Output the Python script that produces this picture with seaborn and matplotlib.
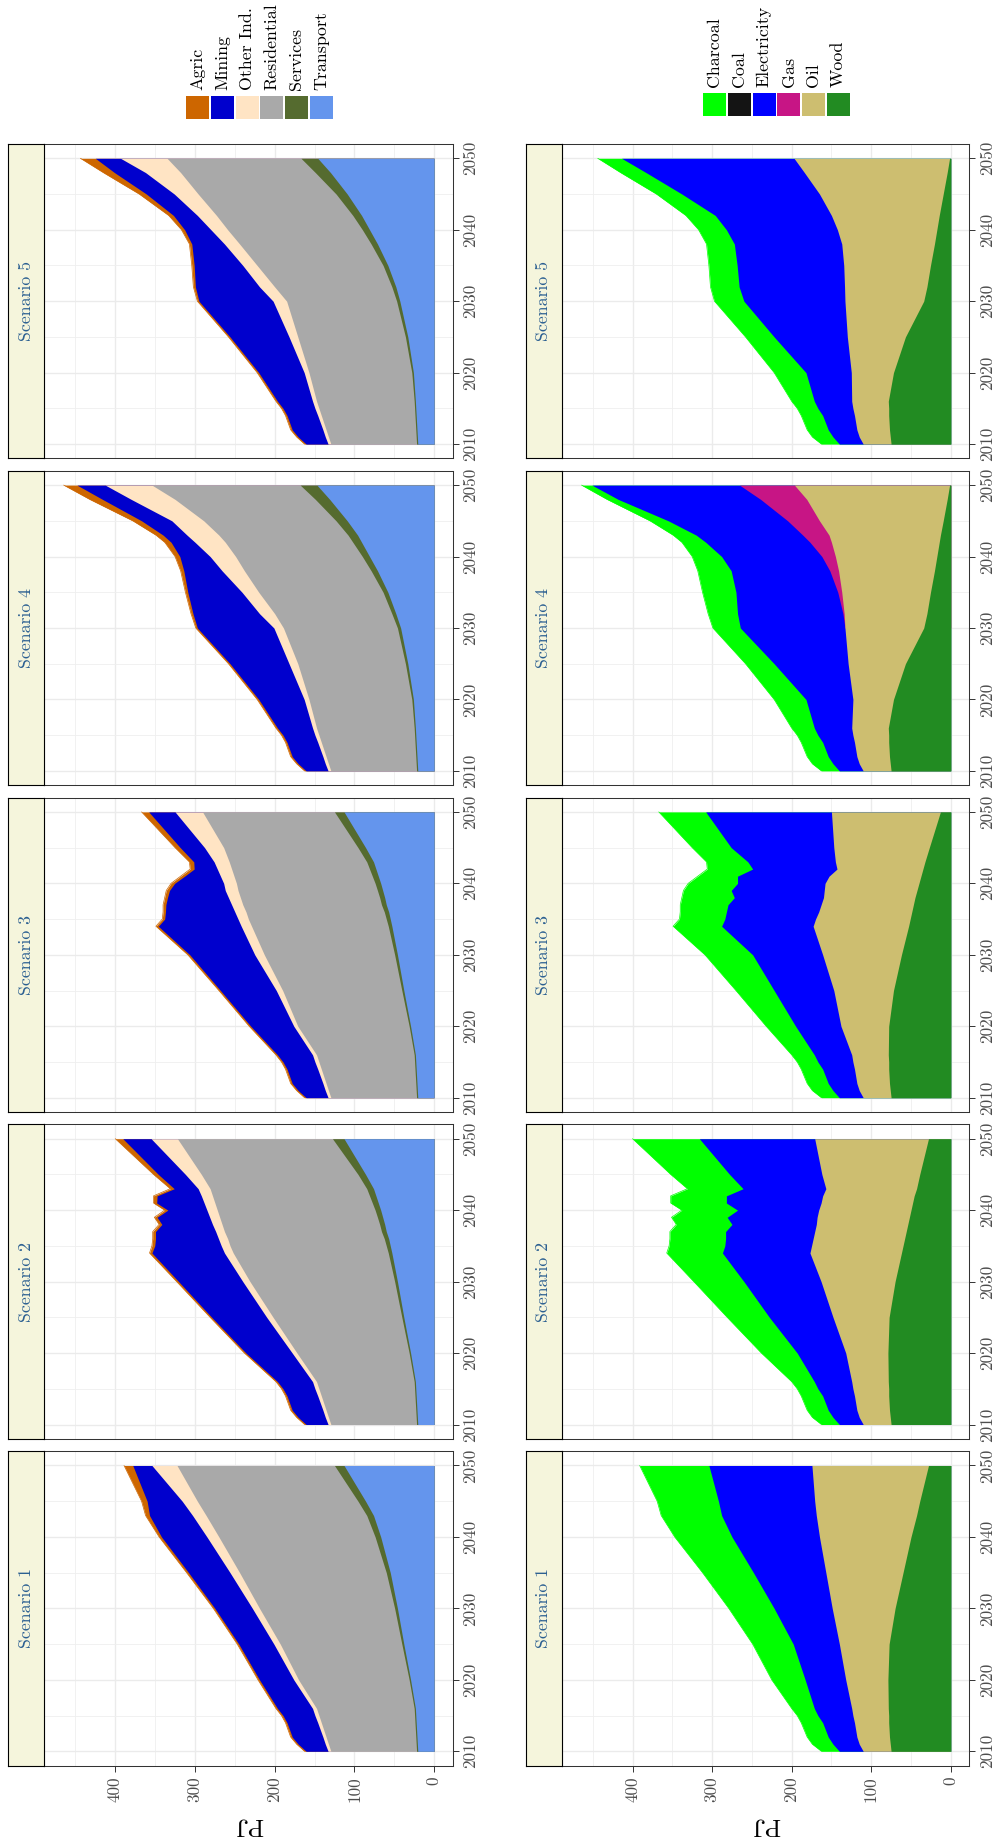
import numpy as np
import pandas as pd
import matplotlib
matplotlib.use("Agg")
import matplotlib.pyplot as plt
from matplotlib.patches import Rectangle
import seaborn as sns

# ---------------------------------------------------------------- data
SCENARIOS = [1, 2, 3, 4, 5]
SECTORS = ["Agric", "Mining", "Other Ind.", "Residential", "Services", "Transport"]
FUELS = ["Charcoal", "Coal", "Electricity", "Gas", "Oil", "Wood"]
SECTOR_COLORS = ["#CD6600", "#0000CD", "#FFE4C4", "#A9A9A9", "#556B2F", "#6495ED"]
FUEL_COLORS = ["#00FF00", "#141414", "#0000FF", "#C71585", "#CDBE70", "#228B22"]
YEAR_TICKS = [2010, 2020, 2030, 2040, 2050]
PJ_TICKS = [0, 100, 200, 300, 400]

YEARS = {
    1: [2010, 2011, 2012, 2014, 2015, 2016, 2020, 2025, 2030, 2035, 2040, 2043, 2045, 2050],
    2: [2010, 2011, 2012, 2014, 2015, 2016, 2020, 2025, 2030, 2034, 2035, 2036, 2037, 2038,
        2039, 2040, 2041, 2042, 2043, 2045, 2050],
    3: [2010, 2011, 2012, 2014, 2015, 2016, 2020, 2025, 2030, 2034, 2035, 2036, 2037, 2038,
        2039, 2040, 2041, 2042, 2043, 2045, 2050],
    4: [2010, 2011, 2012, 2014, 2015, 2016, 2020, 2025, 2030, 2032, 2035, 2038, 2040, 2042,
        2043, 2045, 2048, 2050],
    5: [2010, 2011, 2012, 2014, 2015, 2016, 2020, 2025, 2030, 2032, 2035, 2038, 2040, 2042,
        2045, 2048, 2050],
}

# ---- sectors (PJ)
TRANSPORT = {
    1: [20.5, 21, 21.5, 22.5, 23, 23.5, 29.5, 38, 46, 55, 67, 76, 86, 113],
    2: [20.5, 21, 21.5, 22.5, 23, 23.5, 29.5, 38, 46, 53, 55, 57, 60, 62, 64.5, 67, 70, 73, 76, 86, 113],
    3: [20.5, 21, 21.5, 22.5, 23, 23.5, 29.5, 38, 46, 53, 55, 57, 60, 62, 64.5, 67, 70, 73, 76, 86, 113],
    4: [20.5, 21, 21.5, 22.5, 23, 23.5, 26, 33, 42, 48, 58, 71, 81, 91, 96, 109, 131, 147],
    5: [20.5, 21, 21.5, 22.5, 23, 23.5, 26, 33, 43, 48, 58, 71, 81, 91, 109, 130, 146],
}
SERVICES = {
    1: [1.5, 1.5, 1.5, 1.5, 1.5, 1.5, 1.8, 2.5, 3.5, 5, 7, 8.5, 9.5, 12],
    2: [1.5, 1.5, 1.5, 1.5, 1.5, 1.5, 1.8, 2.5, 3.5, 4.5, 5, 5.5, 6, 6.3, 6.6, 7, 7.5, 8, 8.5, 9.5, 14.5],
    3: [1.5, 1.5, 1.5, 1.5, 1.5, 1.5, 1.8, 2.5, 3.5, 4.5, 5, 5.5, 6, 6.3, 6.6, 7, 7.5, 8, 8.5, 9.5, 12],
    4: [1.5, 1.5, 1.5, 1.5, 1.5, 1.5, 2, 3, 4, 5, 6, 8, 9, 11, 12, 14, 18, 21],
    5: [1.5, 1.5, 1.5, 1.5, 1.5, 1.5, 2, 3, 4, 5, 6, 8, 9, 11, 14, 19, 21],
}
RESIDENTIAL = {
    1: [107.5, 110, 112.5, 117.5, 120, 122.5, 138.7, 152.5, 169.5, 184, 196, 201.5, 201.5, 197.5],
    2: [107.5, 110, 112.5, 117.5, 120, 122.5, 140.7, 161.5, 181.5, 194.5, 196, 196.5, 197, 197.7,
        197.9, 198, 197.5, 197, 196.5, 196.5, 194.5],
    3: [107.5, 110, 112.5, 117.5, 120, 122.5, 139.7, 149.5, 163.5, 171.5, 173, 173.5, 174, 174.7,
        174.9, 174, 173.5, 173, 172.5, 168.5, 165.5],
    4: [107.5, 110, 112.5, 117.5, 120, 122.5, 129, 135, 143, 147, 156, 159, 159, 160, 162, 166, 176, 186],
    5: [107.5, 110, 112.5, 117.5, 120, 122.5, 129, 135, 138, 147, 158, 165, 169, 171, 173, 169, 168],
}
OTHER_IND = {
    1: [3.5, 4, 4, 4.5, 5, 5, 6, 8, 9, 12, 15, 17, 19, 31.5],
    2: [3.5, 4, 4, 4.5, 5, 5, 6, 8, 9, 11, 11, 11.5, 11, 12, 12.5, 13, 13.5, 14, 15, 20, 33],
    3: [3.5, 4, 4, 4.5, 5, 5, 5, 8, 12, 13, 13, 14, 14, 15, 16, 16, 17, 18, 19, 24, 34.5],
    4: [3.5, 4, 4, 4.5, 5, 5, 6, 11, 12, 19, 21, 28, 32, 38, 40, 40, 55, 58.6],
    5: [3.5, 4, 4, 4.5, 5, 5, 6, 11, 17, 19, 18, 19, 21, 24, 30, 44, 58.4],
}
MINING = {
    1: [27.5, 34, 38.5, 38.5, 40, 44, 43, 44, 47, 52, 57, 54, 44, 24],
    2: [27.5, 34, 38.5, 38.5, 40, 44, 58, 69, 80.5, 91, 83.5, 79, 75.5, 63.5, 66, 49, 59.5, 55.5,
        30, 34, 35.5],
    3: [27.5, 34, 38.5, 38.5, 40, 44, 54, 70, 81.5, 104, 92, 87, 82.5, 76.5, 70, 61.5, 45, 29,
        25.5, 30.5, 33],
    4: [27.5, 34, 38.5, 38.5, 40, 44, 57, 74, 96, 83.5, 68, 48, 38, 30, 30, 38, 36, 35.4],
    5: [27.5, 34, 38.5, 38.5, 40, 44, 57, 74, 93, 80.5, 61, 41, 33, 30, 35, 39, 31.6],
}
AGRIC = {
    1: [2, 2, 2, 2, 2, 2, 2, 2, 2, 2.5, 3, 5, 7, 11],
    2: [2, 2, 2, 2, 2, 2, 2, 2, 2.5, 3, 3.5, 3.5, 3.5, 3.5, 3.5, 4, 4, 4.5, 5, 6, 9.5],
    3: [2, 2, 2, 2, 2, 2, 2, 2, 2.5, 3, 3, 3, 3.5, 3.5, 4, 4.5, 5, 5, 5.5, 6.5, 9],
    4: [2, 2, 2, 2, 2, 2, 2, 2, 2, 2.5, 3, 4, 6, 8, 9, 11, 16, 16.7],
    5: [2, 2, 2, 2, 2, 2, 2, 2, 2, 2.5, 3, 3, 4, 6, 9, 14, 18.7],
}

# ---- fuels (PJ)
WOOD = {
    1: [75, 76, 77, 78, 78, 78.5, 79, 77.5, 70, 60, 50, 43, 39, 28],
    2: [75, 76, 77, 78, 78, 78.5, 79, 77.5, 70, 62, 60, 58, 56, 54, 52, 50, 48, 46, 43, 39, 28],
    3: [75, 76, 77, 78, 78, 78.5, 78, 72, 62, 53, 51, 49, 47, 45, 42.5, 40, 37.5, 35, 32.5, 27, 13],
    4: [75, 76, 77, 78, 78, 78.5, 72, 57, 34, 30, 25.5, 20.5, 17.5, 14.5, 13, 9.5, 4.5, 1.5],
    5: [75, 76, 77, 78, 78, 78.5, 72, 57, 34, 30, 25.5, 20.5, 17.5, 14.5, 9.5, 4.5, 1.5],
}
OIL = {
    1: [35, 39, 41, 43, 45, 46, 53, 62.5, 79, 97, 115, 126, 132, 146.5],
    2: [35, 39, 41, 43, 45, 46, 53, 70.5, 93, 115, 115, 115, 115, 115, 116, 116, 115, 115, 114, 123, 143],
    3: [35, 39, 41, 43, 45, 46, 60, 75, 99, 120, 119, 117, 116, 115, 116.5, 118, 115.5, 108, 112.5,
        120, 137],
    4: [35, 39, 41, 43, 45, 46, 51, 72, 99, 104, 111.5, 120.5, 127.5, 135.5, 140, 155.5, 176.5, 195],
    5: [35, 39, 41, 43, 45, 46, 53, 73, 99, 103.5, 109, 116.5, 125, 135.5, 155.5, 179.5, 195.5],
}
GAS = {
    1: [0, 0, 0, 0, 0, 0, 0, 0, 0, 0, 0, 0, 0, 0],
    2: [0, 0, 0, 0, 0, 0, 0, 0, 0, 0, 0, 0, 0, 0, 0, 0, 0, 0, 0, 0, 0],
    3: [0, 0, 0, 0, 0, 0, 0, 0, 0, 0, 0, 0, 0, 0, 0, 0, 0, 0, 0, 0, 0],
    4: [0, 0, 0, 0, 0, 0, 0, 0, 0, 1.5, 5, 11, 17, 27, 33, 40, 58, 69],
    5: [0, 0, 0, 0, 0, 0, 0, 0, 0, 0, 0, 0, 0, 0, 0, 0, 0],
}
ELECTRICITY = {
    1: [30, 33, 36, 40, 44, 47, 51, 58, 73, 91, 110, 119, 121, 129.5],
    2: [30, 33, 36, 40, 44, 47, 61, 80, 97, 110, 109, 110, 112, 106, 113, 102, 119, 121, 104, 116, 145],
    3: [30, 33, 36, 40, 44, 47, 57, 75, 88, 115, 114, 116, 117, 112, 117, 110, 115, 106, 110, 129, 158],
    4: [30, 33, 36, 40, 44, 47, 59, 93, 131.5, 132.5, 128, 124, 126, 131, 134, 150, 179, 185.6],
    5: [30, 33, 36, 40, 44, 47, 57, 92, 127, 132.5, 134, 135, 139.5, 146, 173, 199, 216.7],
}
COAL = {
    1: [0, 0, 0, 0, 0, 0, 0, 0, 0, 0, 0, 0, 0, 0],
    2: [0, 0, 0, 0, 0, 0, 0, 0, 0, 0, 0, 0, 0, 0, 0, 0, 0, 0, 0, 0, 0],
    3: [0, 0, 0, 0, 0, 0, 0, 0, 0, 0, 0, 0, 0, 0, 0, 0, 0, 0, 0, 0, 0],
    4: [0, 0, 0, 0, 0, 0, 0, 0, 0, 0, 0, 0, 0, 0, 0, 0, 0, 0],
    5: [0, 0, 0, 0, 0, 0, 0, 0, 0, 0, 0, 0, 0, 0, 0, 0, 0],
}
CHARCOAL = {
    1: [22.5, 26, 26.5, 27, 26, 28.5, 42, 51, 57, 64, 72, 76, 77, 87],
    2: [22.5, 26, 26.5, 27, 26, 28.5, 45, 53, 63, 70, 70, 70, 70, 70, 70, 70, 70, 70, 70, 74, 84],
    3: [22.5, 26, 26.5, 27, 26, 28.5, 37, 48, 60, 61, 57, 58, 60, 66, 60, 62, 50, 57, 52, 49, 59],
    4: [22.5, 26, 26.5, 27, 26, 28.5, 40, 36, 34.5, 37, 42, 42, 37, 30, 29, 23, 14, 13],
    5: [22.5, 26, 26.5, 27, 26, 28.5, 40, 36, 37, 36, 35.5, 35, 35, 37, 32, 32, 30],
}

SECTOR_DATA = {"Agric": AGRIC, "Mining": MINING, "Other Ind.": OTHER_IND,
               "Residential": RESIDENTIAL, "Services": SERVICES, "Transport": TRANSPORT}
FUEL_DATA = {"Charcoal": CHARCOAL, "Coal": COAL, "Electricity": ELECTRICITY,
             "Gas": GAS, "Oil": OIL, "Wood": WOOD}

rows = []
for group, table in (("sector", SECTOR_DATA), ("fuel", FUEL_DATA)):
    for cat, series in table.items():
        for s in SCENARIOS:
            assert len(series[s]) == len(YEARS[s]), (cat, s)
            for yr, v in zip(YEARS[s], series[s]):
                rows.append((group, s, cat, yr, v))
df = pd.DataFrame(rows, columns=["group", "scenario", "category", "year", "pj"])

# ---------------------------------------------------------------- style
sns.set_theme(style="white")
plt.rcParams["font.family"] = ["cmr10", "DejaVu Serif"]
plt.rcParams["axes.formatter.use_mathtext"] = True
plt.rcParams["axes.unicode_minus"] = False

W, H = 997, 1843
fig = plt.figure(figsize=(W / 100, H / 100), dpi=100)
fig.patch.set_facecolor("white")


def fx(px):
    return px / W


def fy(py):
    return 1 - py / H


ROW_TOP0, ROW_PITCH, PANEL_H = 144.0, 326.8, 314.4
COLUMNS = {"sector": (8.0, 44.3, 452.7), "fuel": (525.7, 561.7, 969.3)}
XLIM = (489.0, -23.3)
YLIM = (2008.0, 2052.0)
TICK_COLOR = "#333333"
LABEL_COLOR = "#4D4D4D"
STRIP_TEXT = "#2B5F91"


def draw_panel(ax, sub, cats, colors):
    wide = sub.pivot(index="year", columns="category", values="pj")[cats].sort_index()
    yrs = wide.index.to_numpy(dtype=float)
    cum = wide[cats[::-1]].cumsum(axis=1)
    # painter's order: the top layer first, each layer from 0 to its stacked top
    for cat, col in zip(cats, colors):
        vals = wide[cat].to_numpy(dtype=float)
        nz = np.nonzero(vals > 0)[0]
        if len(nz) == 0:
            continue
        i0 = max(nz[0] - 1, 0)
        i1 = min(nz[-1] + 1, len(vals) - 1)
        top = cum[cat].to_numpy(dtype=float)
        ax.fill_betweenx(yrs[i0:i1 + 1], 0, top[i0:i1 + 1], facecolor=col,
                         linewidth=0, zorder=2)
    total = cum[cats[0]].to_numpy(dtype=float)
    sns.lineplot(x=total, y=yrs, orient="y", estimator=None, color=colors[0],
                 linewidth=0.5, ax=ax, zorder=3)


groups = [("sector", SECTORS, SECTOR_COLORS), ("fuel", FUELS, FUEL_COLORS)]
for group, cats, colors in groups:
    sx0, px0, px1 = COLUMNS[group]
    for row, scen in enumerate([5, 4, 3, 2, 1]):
        top_px = ROW_TOP0 + row * ROW_PITCH
        ax = fig.add_axes([fx(px0), fy(top_px + PANEL_H), fx(px1 - px0), PANEL_H / H])
        sub = df[(df.group == group) & (df.scenario == scen)]
        draw_panel(ax, sub, cats, colors)
        ax.set_facecolor("white")
        ax.set_xlim(*XLIM)
        ax.set_ylim(*YLIM)
        ax.set_xlabel("")
        ax.set_ylabel("")
        ax.set_xticks(PJ_TICKS)
        ax.set_xticks([50, 150, 250, 350, 450], minor=True)
        ax.set_yticks(YEAR_TICKS)
        ax.set_yticks([2015, 2025, 2035, 2045], minor=True)
        ax.grid(which="major", color="#EBEBEB", linewidth=1.0, zorder=0)
        ax.grid(which="minor", color="#EFEFEF", linewidth=0.6, zorder=0)
        ax.set_axisbelow(True)
        for sp in ax.spines.values():
            sp.set_color(TICK_COLOR)
            sp.set_linewidth(0.75)
            sp.set_zorder(5)
        ax.tick_params(which="minor", length=0)
        ax.yaxis.tick_right()
        ax.tick_params(axis="y", which="major", right=True, left=False, length=4,
                       width=0.7, color=TICK_COLOR, pad=3.5, labelsize=12.3,
                       labelcolor=LABEL_COLOR, labelright=True, labelleft=False)
        ax.set_yticklabels([str(t) for t in YEAR_TICKS], rotation=90, va="center", ha="left")
        if scen == 1:
            ax.tick_params(axis="x", which="major", bottom=True, length=4, width=0.7,
                           color=TICK_COLOR, pad=3.7, labelsize=12.3,
                           labelcolor=LABEL_COLOR, labelbottom=True)
            ax.set_xticklabels([str(t) for t in PJ_TICKS], rotation=90, ha="center", va="top")
        else:
            ax.tick_params(axis="x", which="major", bottom=False, length=0, labelbottom=False)

        # facet strip
        sax = fig.add_axes([fx(sx0), fy(top_px + PANEL_H), fx(px0 - sx0), PANEL_H / H])
        sax.set_facecolor("#F5F5DC")
        sax.set_xticks([])
        sax.set_yticks([])
        for sp in sax.spines.values():
            sp.set_color("black")
            sp.set_linewidth(0.8)
        sax.text(0.5, 0.5, f"Scenario {scen}", rotation=90, ha="center", va="center",
                 color=STRIP_TEXT, fontsize=12.8, transform=sax.transAxes)

    # y-axis title (rotated with the figure)
    fig.text(fx((px0 + px1) / 2), fy(1825), "PJ", rotation=180, ha="center", va="center",
             fontsize=17.5, color="black")

# legends (rotated layout)
LEGENDS = [
    (SECTORS, SECTOR_COLORS, 186.0, 24.8, 96.0, 90.0),
    (FUELS, FUEL_COLORS, 703.3, 24.7, 93.3, 87.3),
]
for labels, cols, x0, pitch, ytop, ytext in LEGENDS:
    for k, (lab, col) in enumerate(zip(labels, cols)):
        xl = x0 + k * pitch
        fig.add_artist(Rectangle((fx(xl), fy(ytop + 23)), fx(23), 23 / H,
                                 transform=fig.transFigure, facecolor=col,
                                 edgecolor="none"))
        fig.text(fx(xl + 11.5), fy(ytext), lab, rotation=90, ha="center", va="bottom",
                 fontsize=12.9, color="black")

fig.savefig("out.png", dpi=100, facecolor="white")
